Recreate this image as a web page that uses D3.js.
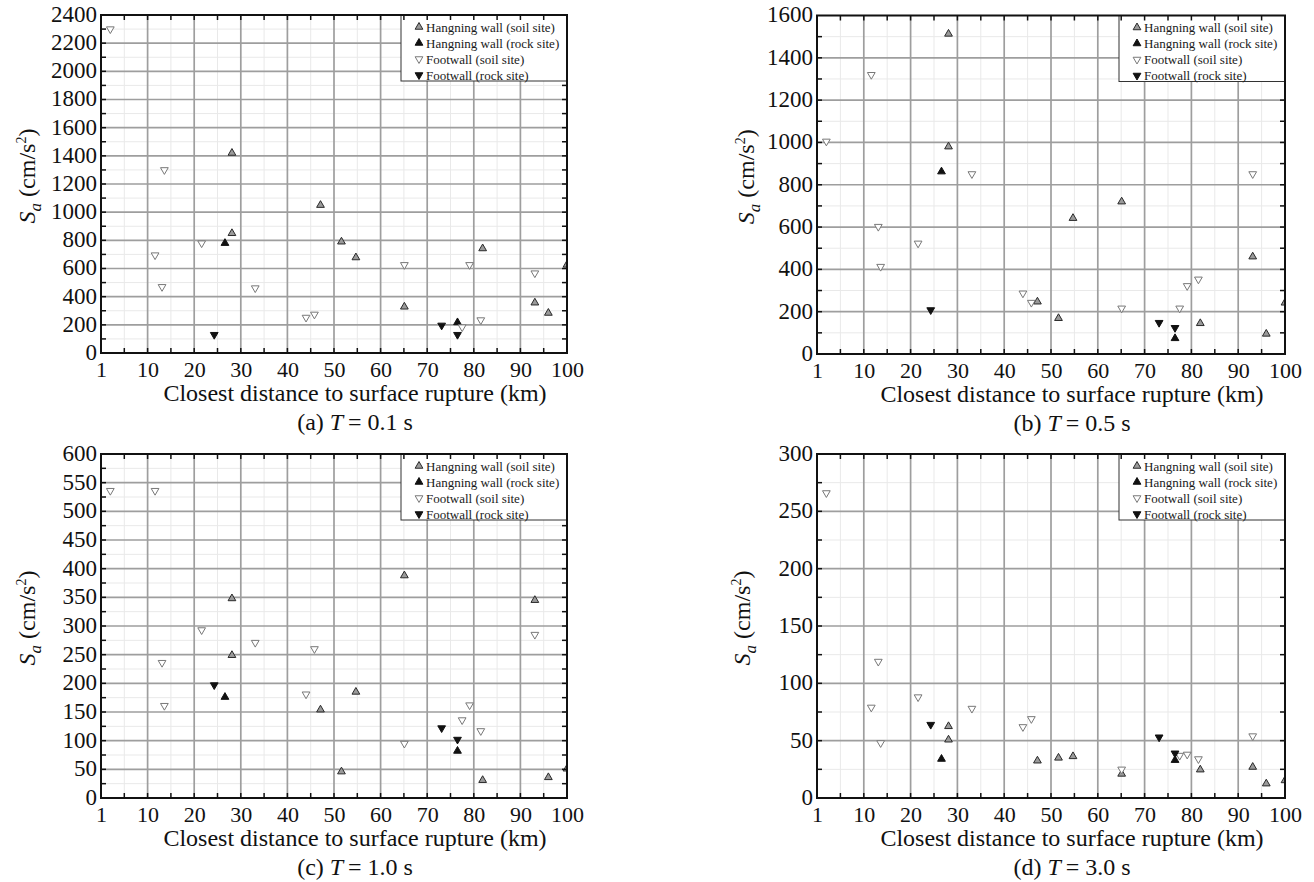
<!DOCTYPE html>
<html>
<head>
<meta charset="utf-8">
<script src="https://cdn.jsdelivr.net/npm/d3@7"></script>
<style>
  html, body { margin: 0; padding: 0; background: #fff; }
  svg text { font-family: "Liberation Serif", "Times New Roman", "DejaVu Serif", serif; }
</style>
</head>
<body>
<svg id="fig" width="1314" height="882"></svg>
<script>
// Closest distance to the surface rupture (km) for each station group
const hwSoilDist = [28.1, 28.1, 47.1, 51.6, 54.7, 65.1, 81.9, 93.1, 96.0, 100];
const hwRockDist = [26.6, 76.5];
const fwSoilDist = [2.0, 11.6, 13.1, 13.6, 21.6, 33.1, 44.0, 45.8, 65.1, 77.5, 79.1, 81.5, 93.1];
const fwRockDist = [24.3, 73.1, 76.5];

// Spectral acceleration Sa (cm/s²), T = 0.1 s
const hwSoilT01 = [1420, 850, 1050, 790, 678, 328, 742, 357, 284, 626];
const hwRockT01 = [780, 217];
const fwSoilT01 = [2300, 695, 470, 1300, 780, 461, 252, 274, 626, 184, 626, 234, 567];
const fwRockT01 = [130, 196, 130];

// T = 0.5 s
const hwSoilT05 = [1513, 980, 247, 169, 642, 720, 145, 460, 95, 242];
const hwRockT05 = [862, 74];
const fwSoilT05 = [1005, 1320, 602, 413, 523, 851, 287, 243, 216, 216, 322, 353, 851];
const fwRockT05 = [208, 148, 124];

// T = 1.0 s
const hwSoilT10 = [348, 249, 154, 46, 185, 388, 31, 345, 36, 51];
const hwRockT10 = [176, 82];
const fwSoilT10 = [536, 536, 236, 161, 293, 271, 181, 260, 95, 136, 162, 117, 285];
const fwRockT10 = [197, 122, 102];

// T = 3.0 s
const hwSoilT30 = [62.5, 50.8, 32.5, 35, 36.3, 21, 24.7, 27, 12.5, 15.3];
const hwRockT30 = [34, 33];
const fwSoilT30 = [266, 79, 119, 48, 88, 78, 62, 69, 25, 37, 38, 34, 54];
const fwRockT30 = [64, 53, 39];

// Axis ticks
const xTickValues = [0, 10, 20, 30, 40, 50, 60, 70, 80, 90, 100];
const xTickLabels = ["1", "10", "20", "30", "40", "50", "60", "70", "80", "90", "100"];
const yTicksT01 = [0, 200, 400, 600, 800, 1000, 1200, 1400, 1600, 1800, 2000, 2200, 2400];
const yTicksT05 = [0, 200, 400, 600, 800, 1000, 1200, 1400, 1600];
const yTicksT10 = [0, 50, 100, 150, 200, 250, 300, 350, 400, 450, 500, 550, 600];
const yTicksT30 = [0, 50, 100, 150, 200, 250, 300];

const panelLetters = ["(a)", "(b)", "(c)", "(d)"];
const periodLabels = ["0.1", "0.5", "1.0", "3.0"];
const seriesNames = ["Hangning wall (soil site)", "Hangning wall (rock site)",
                     "Footwall (soil site)", "Footwall (rock site)"];

const SERIF = "'Liberation Serif', 'Times New Roman', 'DejaVu Serif', serif";

// Marker styles for the four station groups
const seriesStyle = [
  { up: true,  fill: "#9a9a9a", stroke: "#2a2a2a" },
  { up: true,  fill: "#111",    stroke: "#111" },
  { up: false, fill: "#fff",    stroke: "#787878" },
  { up: false, fill: "#111",    stroke: "#111" }
];

const panels = [
  { box: { l: 101, t: 15,   r: 567,  b: 353 }, titleX: 35,  yTicks: yTicksT01, minor: 100,
    series: [hwSoilT01, hwRockT01, fwSoilT01, fwRockT01] },
  { box: { l: 817, t: 15.5, r: 1285, b: 354 }, titleX: 754, yTicks: yTicksT05, minor: 100,
    series: [hwSoilT05, hwRockT05, fwSoilT05, fwRockT05] },
  { box: { l: 101, t: 454,  r: 567,  b: 798 }, titleX: 35,  yTicks: yTicksT10, minor: 25,
    series: [hwSoilT10, hwRockT10, fwSoilT10, fwRockT10] },
  { box: { l: 817, t: 454,  r: 1285, b: 798 }, titleX: 750, yTicks: yTicksT30, minor: 25,
    series: [hwSoilT30, hwRockT30, fwSoilT30, fwRockT30] }
];
const seriesDist = [hwSoilDist, hwRockDist, fwSoilDist, fwRockDist];

const svg = d3.select("#fig").attr("font-family", SERIF);
const triangle = d3.symbol().type(d3.symbolTriangle).size(26);

function marker(sel, style) {
  sel.append("path")
    .attr("d", triangle())
    .attr("transform", style.up ? null : "rotate(180)")
    .attr("fill", style.fill)
    .attr("stroke", style.stroke)
    .attr("stroke-width", 1);
}

panels.forEach((p, pi) => {
  const { l, t, r, b } = p.box;
  const w = r - l, h = b - t;
  const yMax = p.yTicks[p.yTicks.length - 1];
  const x = d3.scaleLinear().domain([0, 100]).range([0, w]);
  const y = d3.scaleLinear().domain([0, yMax]).range([h, 0]);

  const g = svg.append("g").attr("transform", `translate(${l},${t})`);

  const xMinor = d3.range(5, 100, 10);
  const yMinor = d3.range(p.minor, yMax, p.minor).filter(v => !p.yTicks.includes(v));

  // light minor grid
  g.append("g").selectAll("line").data(xMinor).join("line")
    .attr("x1", d => x(d)).attr("x2", d => x(d)).attr("y1", 0).attr("y2", h)
    .attr("stroke", "#e9e9e9").attr("stroke-width", 1);
  g.append("g").selectAll("line").data(yMinor).join("line")
    .attr("y1", d => y(d)).attr("y2", d => y(d)).attr("x1", 0).attr("x2", w)
    .attr("stroke", "#e9e9e9").attr("stroke-width", 1);

  // major grid
  g.append("g").selectAll("line").data(xTickValues.slice(1, -1)).join("line")
    .attr("x1", d => x(d)).attr("x2", d => x(d)).attr("y1", 0).attr("y2", h)
    .attr("stroke", "#9e9e9e").attr("stroke-width", 1.7);
  g.append("g").selectAll("line").data(p.yTicks.slice(1, -1)).join("line")
    .attr("y1", d => y(d)).attr("y2", d => y(d)).attr("x1", 0).attr("x2", w)
    .attr("stroke", "#9e9e9e").attr("stroke-width", 1.7);

  // data points, clipped to the plot frame
  const clipId = "clip" + pi;
  g.append("clipPath").attr("id", clipId).append("rect").attr("width", w).attr("height", h);
  const pts = g.append("g").attr("clip-path", `url(#${clipId})`);
  p.series.forEach((vals, si) => {
    const dist = seriesDist[si];
    const data = vals.map((v, i) => [dist[i], v]);
    pts.append("g").selectAll("g").data(data).join("g")
      .attr("transform", d => `translate(${x(d[0])},${y(d[1])})`)
      .each(function () { marker(d3.select(this), seriesStyle[si]); });
  });

  // legend
  const lg = g.append("g").attr("transform", `translate(${w - 166},0)`);
  lg.append("rect").attr("width", 166).attr("height", 66)
    .attr("fill", "#fff").attr("stroke", "#333").attr("stroke-width", 1);
  seriesNames.forEach((name, i) => {
    const row = lg.append("g").attr("transform", `translate(0,${12 + i * 16})`);
    row.append("g").attr("transform", "translate(18,0)")
      .call(s => marker(s, seriesStyle[i]));
    row.append("text").attr("x", 25).attr("y", 4.5).attr("font-family", SERIF)
      .attr("font-size", 13).attr("fill", "#1a1a1a").text(name);
  });

  // inward ticks on all four sides
  const xTickAll = d3.range(5, 100, 5);
  const yTickAll = d3.range(p.minor, yMax, p.minor);
  const tk = g.append("g").attr("stroke", "#111").attr("stroke-width", 1.5);
  tk.selectAll(".tb").data(xTickAll).join("line").attr("class", "tb")
    .attr("x1", d => x(d)).attr("x2", d => x(d)).attr("y1", h).attr("y2", h - 5);
  tk.selectAll(".tt").data(xTickAll).join("line").attr("class", "tt")
    .attr("x1", d => x(d)).attr("x2", d => x(d)).attr("y1", 0).attr("y2", 5);
  tk.selectAll(".tl").data(yTickAll).join("line").attr("class", "tl")
    .attr("y1", d => y(d)).attr("y2", d => y(d)).attr("x1", 0).attr("x2", 5);
  tk.selectAll(".tr").data(yTickAll.filter(v => y(v) > 66)).join("line").attr("class", "tr")
    .attr("y1", d => y(d)).attr("y2", d => y(d)).attr("x1", w).attr("x2", w - 5);

  // frame
  g.append("rect").attr("width", w).attr("height", h)
    .attr("fill", "none").attr("stroke", "#111").attr("stroke-width", 2);

  // tick labels
  const xAxis = d3.axisBottom(x).tickValues(xTickValues)
    .tickFormat((d, i) => xTickLabels[i]).tickSize(0).tickPadding(8);
  const xa = g.append("g").attr("transform", `translate(0,${h})`).call(xAxis)
    .attr("font-family", SERIF);
  xa.select(".domain").remove();
  xa.selectAll("text").attr("font-size", 22).attr("fill", "#111");

  const yAxis = d3.axisLeft(y).tickValues(p.yTicks).tickFormat(d3.format("d"))
    .tickSize(0).tickPadding(4);
  const ya = g.append("g").call(yAxis).attr("font-family", SERIF);
  ya.select(".domain").remove();
  ya.selectAll("text").attr("font-size", 23).attr("fill", "#111").attr("dy", "0.28em");

  // axis titles
  const cx = w / 2 + 21;
  g.append("text").attr("x", cx).attr("y", h + 48).attr("text-anchor", "middle")
    .attr("font-family", SERIF).attr("font-size", 24).attr("fill", "#111")
    .text("Closest distance to surface rupture (km)");

  const yt = svg.append("text")
    .attr("transform", `translate(${p.titleX},${t + h / 2 - 8}) rotate(-90)`)
    .attr("text-anchor", "middle").attr("font-family", SERIF)
    .attr("font-size", 24).attr("fill", "#111");
  yt.append("tspan").attr("font-style", "italic").text("S");
  yt.append("tspan").attr("font-style", "italic").attr("font-size", 17).attr("dy", 6).text("a");
  yt.append("tspan").attr("dy", -6).text(" (cm/s");
  yt.append("tspan").attr("font-size", 14).attr("dy", -9).text("2");
  yt.append("tspan").attr("dy", 9).text(")");

  // panel caption
  const cap = g.append("text").attr("x", cx).attr("y", h + 77).attr("text-anchor", "middle")
    .attr("font-family", SERIF).attr("font-size", 24).attr("fill", "#111");
  cap.append("tspan").text(panelLetters[pi] + " ");
  cap.append("tspan").attr("font-style", "italic").text("T");
  cap.append("tspan").text("\u2009= " + periodLabels[pi] + " s");
});
</script>
</body>
</html>
